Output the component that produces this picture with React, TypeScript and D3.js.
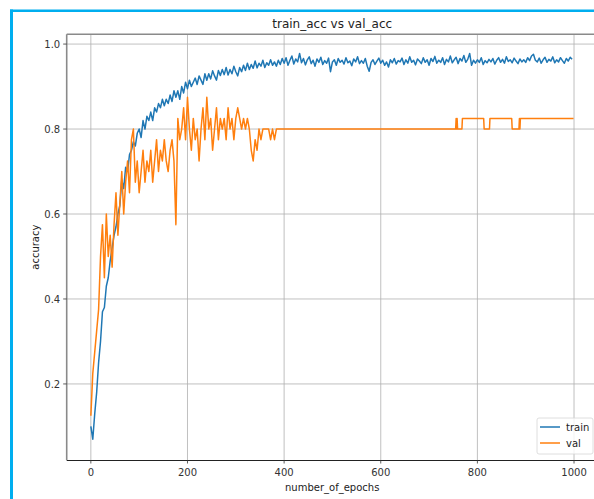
import React from 'react';
import * as d3 from 'd3';

// accuracy, one value every 4 epochs
const sampleStep = 4;

const trainAcc = [
  0.10, 0.07, 0.13, 0.18, 0.25, 0.30, 0.37, 0.38, 0.43, 0.45,
  0.49, 0.52, 0.55, 0.57, 0.60, 0.62, 0.68, 0.66, 0.71, 0.70,
  0.74, 0.75, 0.77, 0.76, 0.79, 0.80, 0.78, 0.82, 0.80, 0.83,
  0.82, 0.84, 0.82, 0.85, 0.84, 0.86, 0.85, 0.87, 0.855, 0.87,
  0.86, 0.88, 0.865, 0.89, 0.875, 0.89, 0.87, 0.90, 0.885, 0.91,
  0.895, 0.915, 0.90, 0.91, 0.92, 0.905, 0.925, 0.915, 0.905, 0.93,
  0.915, 0.93, 0.918, 0.937, 0.925, 0.915, 0.938, 0.926, 0.94, 0.928,
  0.945, 0.927, 0.94, 0.93, 0.948, 0.935, 0.925, 0.945, 0.935, 0.95,
  0.938, 0.955, 0.94, 0.952, 0.943, 0.96, 0.944, 0.955, 0.948, 0.962,
  0.945, 0.956, 0.95, 0.963, 0.95, 0.958, 0.948, 0.962, 0.952, 0.966,
  0.955, 0.968, 0.950, 0.962, 0.972, 0.953, 0.965, 0.958, 0.978, 0.956,
  0.966, 0.951, 0.963, 0.970, 0.954, 0.962, 0.948, 0.965, 0.957, 0.969,
  0.952, 0.961, 0.955, 0.967, 0.935, 0.958, 0.963, 0.950, 0.966, 0.957,
  0.962, 0.953, 0.968, 0.956, 0.960, 0.949, 0.965, 0.958, 0.970, 0.954,
  0.961, 0.955, 0.966, 0.948, 0.936, 0.957, 0.963, 0.952, 0.960, 0.967,
  0.955, 0.962, 0.950, 0.958, 0.946, 0.963, 0.956, 0.966, 0.953, 0.961,
  0.958, 0.967, 0.952, 0.963, 0.955, 0.970, 0.957, 0.962, 0.951, 0.965,
  0.960, 0.954, 0.968, 0.957, 0.963, 0.950, 0.966, 0.959, 0.971, 0.955,
  0.962, 0.957, 0.968, 0.952, 0.964, 0.958, 0.972, 0.956, 0.963, 0.969,
  0.954, 0.966, 0.960, 0.973, 0.957, 0.964, 0.978, 0.950, 0.962, 0.955,
  0.963, 0.957, 0.968, 0.952, 0.961, 0.956, 0.964, 0.958, 0.966, 0.953,
  0.962, 0.968, 0.957, 0.964, 0.955, 0.970, 0.959, 0.963, 0.956, 0.967,
  0.960, 0.954, 0.965, 0.958, 0.963, 0.957, 0.968, 0.961, 0.972, 0.976,
  0.962, 0.958, 0.967, 0.955, 0.963, 0.969, 0.957, 0.964, 0.960, 0.970,
  0.956, 0.963, 0.958, 0.968, 0.961, 0.955, 0.966, 0.960, 0.969, 0.964,
];

// val accuracy, every 4 epochs up to 396
const valAccEarly = [
  0.125, 0.225, 0.275, 0.325, 0.375, 0.5, 0.575, 0.45, 0.6, 0.5,
  0.55, 0.475, 0.575, 0.65, 0.55, 0.625, 0.7, 0.6, 0.675, 0.725,
  0.65, 0.775, 0.8, 0.675, 0.725, 0.65, 0.7, 0.75, 0.675, 0.725,
  0.7, 0.75, 0.675, 0.725, 0.775, 0.7, 0.75, 0.725, 0.775, 0.725,
  0.7, 0.75, 0.775, 0.725, 0.575, 0.825, 0.775, 0.8, 0.85, 0.775,
  0.875, 0.8, 0.75, 0.825, 0.775, 0.8, 0.725, 0.8, 0.85, 0.775,
  0.875, 0.8, 0.825, 0.75, 0.8, 0.85, 0.775, 0.825, 0.8, 0.825,
  0.775, 0.85, 0.8, 0.825, 0.775, 0.825, 0.85, 0.825, 0.8, 0.825,
  0.8, 0.825, 0.8, 0.75, 0.725, 0.775, 0.75, 0.8, 0.775, 0.8,
  0.8, 0.8, 0.8, 0.775, 0.8, 0.775, 0.8, 0.8, 0.8, 0.8,
];

// after epoch 400 val only flips between two levels
const valLateEpochs = [400, 755, 756, 757, 758, 759, 768, 769, 813, 814, 825, 826, 871, 872, 886, 887, 888, 889, 999];
const valLateAcc = [0.8, 0.8, 0.825, 0.8, 0.825, 0.8, 0.8, 0.825, 0.825, 0.8, 0.8, 0.825, 0.825, 0.8, 0.8, 0.825, 0.8, 0.825, 0.825];

const xTicks = [0, 200, 400, 600, 800, 1000];
const yTicks = [0.2, 0.4, 0.6, 0.8, 1.0];

const W = 594, H = 499;
const left = 66.7, right = 597.7, top = 34.3, bottom = 460;

export default function App() {
  const x = d3.scaleLinear().domain([-50, 1049]).range([left, right]);
  const y = d3.scaleLinear().domain([0.021, 1.023]).range([bottom, top]);

  const trainPts: [number, number][] = trainAcc.map((v, i) => [i * sampleStep, v]);
  const valPts: [number, number][] = valAccEarly
    .map((v, i) => [i * sampleStep, v] as [number, number])
    .concat(valLateEpochs.map((e, i) => [e, valLateAcc[i]] as [number, number]));

  const line = d3.line<[number, number]>()
    .x(d => x(d[0]))
    .y(d => y(d[1]));

  const font = 'DejaVu Sans, sans-serif';

  return (
    <svg width={W} height={H} style={{position: 'absolute', left: 0, top: 0}} fontFamily={font}>
      <rect x={0} y={0} width={W} height={H} fill="#fff"/>
      <defs>
        <clipPath id="plot">
          <rect x={left} y={top} width={right - left} height={bottom - top}/>
        </clipPath>
      </defs>

      {/* grid */}
      {xTicks.map(t => (
        <line key={'gx' + t} x1={x(t)} x2={x(t)} y1={top} y2={bottom} stroke="#b0b0b0" strokeWidth={0.8}/>
      ))}
      {yTicks.map(t => (
        <line key={'gy' + t} x1={left} x2={right} y1={y(t)} y2={y(t)} stroke="#b0b0b0" strokeWidth={0.8}/>
      ))}

      <g clipPath="url(#plot)" fill="none" strokeWidth={1.5} strokeLinejoin="round">
        <path d={line(trainPts) || ''} stroke="#1f77b4"/>
        <path d={line(valPts) || ''} stroke="#ff7f0e"/>
      </g>

      {/* spines */}
      <line x1={left} x2={left} y1={top} y2={bottom} stroke="#8a8a8a" strokeWidth={1.6}/>
      <line x1={left} x2={right} y1={top} y2={top} stroke="#8a8a8a" strokeWidth={1.6}/>
      <line x1={left} x2={right} y1={bottom + 0.5} y2={bottom + 0.5} stroke="#222" strokeWidth={1}/>

      {/* x axis */}
      {xTicks.map(t => (
        <g key={'tx' + t}>
          <line x1={x(t)} x2={x(t)} y1={bottom} y2={bottom + 3.5} stroke="#333" strokeWidth={0.8}/>
          <text x={x(t)} y={bottom + 16} textAnchor="middle" fontSize={10} fill="#333">{t}</text>
        </g>
      ))}
      <text x={(left + right) / 2} y={491} textAnchor="middle" fontSize={10} fill="#222">number_of_epochs</text>

      {/* y axis */}
      {yTicks.map(t => (
        <g key={'ty' + t}>
          <line x1={left - 3.5} x2={left} y1={y(t)} y2={y(t)} stroke="#333" strokeWidth={0.8}/>
          <text x={left - 6.5} y={y(t) + 3.6} textAnchor="end" fontSize={10} fill="#333">{d3.format('.1f')(t)}</text>
        </g>
      ))}
      <text transform={`translate(39, ${(top + bottom) / 2}) rotate(-90)`} textAnchor="middle" fontSize={10} fill="#222">accuracy</text>

      <text x={(left + right) / 2} y={28} textAnchor="middle" fontSize={12} fill="#222">train_acc vs val_acc</text>

      {/* legend */}
      <rect x={537} y={418} width={56} height={36} rx={2} fill="#fff" fillOpacity={0.8} stroke="#d6d6d6" strokeWidth={0.8}/>
      <line x1={540} x2={560} y1={427} y2={427} stroke="#1f77b4" strokeWidth={1.5}/>
      <text x={566} y={430.5} fontSize={10} fill="#222">train</text>
      <line x1={540} x2={560} y1={443} y2={443} stroke="#ff7f0e" strokeWidth={1.5}/>
      <text x={566} y={446.5} fontSize={10} fill="#222">val</text>

      {/* cyan frame */}
      <rect x={10} y={9.5} width={3} height={H - 9.5} fill="#00aeef"/>
      <rect x={10} y={9.5} width={W - 10} height={2.5} fill="#00aeef"/>
    </svg>
  );
}
